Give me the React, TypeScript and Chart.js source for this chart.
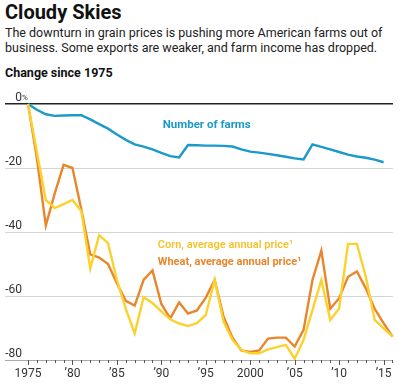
import React, { useEffect, useRef } from "react";
import { Chart, registerables } from "chart.js";

Chart.register(...registerables);

const years: number[] = [
  1975, 1976, 1977, 1978, 1979, 1980, 1981, 1982, 1983, 1984,
  1985, 1986, 1987, 1988, 1989, 1990, 1991, 1992, 1993, 1994,
  1995, 1996, 1997, 1998, 1999, 2000, 2001, 2002, 2003, 2004,
  2005, 2006, 2007, 2008, 2009, 2010, 2011, 2012, 2013, 2014,
  2015, 2016,
];

const farms: (number | null)[] = [
  0, -1.8, -3.2, -3.7, -3.6, -3.5, -3.5, -4.8, -6.3, -7.7,
  -9.5, -11.2, -12.6, -13.3, -14.2, -15.3, -16.3, -16.7, -12.8, -12.9,
  -13.0, -13.0, -13.1, -13.3, -14.2, -14.9, -15.2, -15.6, -16.0, -16.5,
  -17.0, -17.3, -12.6, -13.4, -14.2, -15.0, -15.8, -16.4, -16.8, -17.4,
  -18.2, null,
];

const wheat: number[] = [
  0, -17, -38, -28, -19, -20, -33, -47, -48, -50,
  -56, -61.5, -63, -55, -52, -62.5, -67, -62, -65.5, -64.5,
  -60.5, -55, -66.5, -73, -77, -77.5, -77, -73.3, -73, -73,
  -75.8, -70.6, -55, -45.8, -64, -60.7, -54, -52.3, -57.6, -64,
  -68.5, -72.7,
];

const corn: number[] = [
  0, -15, -30, -32.5, -31.3, -30, -33.5, -51.4, -41, -43.5,
  -55, -64, -71.7, -60.4, -62.2, -64.8, -67.3, -68.6, -69.4, -68.5,
  -65.9, -55, -68, -73.7, -76.9, -77.9, -77.9, -76.7, -76, -75.3,
  -79.6, -73.7, -64.4, -55, -67.5, -63.9, -43.7, -43.7, -54, -67.5,
  -70.1, -72.7,
];

const yTicks: number[] = [0, -20, -40, -60, -80];
const xLabelYears: number[] = [1975, 1980, 1985, 1990, 1995, 2000, 2005, 2010, 2015];

const BLUE = "#1b99c9";
const ORANGE = "#e8862b";
const YELLOW = "#fcd12e";

function xLabel(y: number): string {
  if (y === 1975 || y === 2000) return String(y);
  return "\u2019" + String(y).slice(2);
}

const FONT = "Roboto, 'Noto Sans', sans-serif";

const overlayPlugin = {
  id: "overlay",
  afterDatasetsDraw(chart: any) {
    const ctx = chart.ctx as CanvasRenderingContext2D;
    const xs = chart.scales.x;
    const ys = chart.scales.y;
    const bottom = ys.getPixelForValue(-80);
    ctx.save();
    ctx.strokeStyle = "#555";
    ctx.lineWidth = 1;
    for (const yr of years) {
      const px = Math.round(xs.getPixelForValue(yr)) + 0.5;
      const len = yr % 5 === 0 ? 5 : 3;
      ctx.beginPath();
      ctx.moveTo(px, bottom);
      ctx.lineTo(px, bottom + len);
      ctx.stroke();
    }
    ctx.fillStyle = "#333";
    ctx.font = `12px ${FONT}`;
    ctx.textAlign = "center";
    ctx.textBaseline = "middle";
    for (const yr of xLabelYears) {
      ctx.fillText(xLabel(yr), xs.getPixelForValue(yr), bottom + 14);
    }
    ctx.textAlign = "right";
    ctx.textBaseline = "alphabetic";
    for (const v of yTicks) {
      const py = ys.getPixelForValue(v) - 3;
      const label = v === 0 ? "0" : String(v);
      ctx.font = `12px ${FONT}`;
      ctx.fillText(label.replace("-", "\u2011"), 22, py);
      if (v === 0) {
        ctx.textAlign = "left";
        ctx.font = `8px ${FONT}`;
        ctx.fillText("%", 22, py - 1);
        ctx.textAlign = "right";
      }
    }
    ctx.textBaseline = "middle";
    ctx.textAlign = "center";
    ctx.font = `bold 11.5px ${FONT}`;
    ctx.fillStyle = BLUE;
    ctx.fillText("Number of farms", xs.getPixelForValue(1995.1), ys.getPixelForValue(-6.6));
    ctx.textAlign = "left";
    ctx.font = `600 11px ${FONT}`;
    ctx.fillStyle = "#f6c22c";
    ctx.fillText("Corn, average annual price\u00b9", xs.getPixelForValue(1989.6), ys.getPixelForValue(-44));
    ctx.fillStyle = ORANGE;
    ctx.font = `bold 11px ${FONT}`;
    ctx.fillText("Wheat, average annual price\u00b9", xs.getPixelForValue(1989.6), ys.getPixelForValue(-49.4));
    ctx.restore();
  },
};

export default function App() {
  const canvasRef = useRef<HTMLCanvasElement | null>(null);

  useEffect(() => {
    document.body.style.margin = "0";
    const canvas = canvasRef.current;
    if (!canvas) return;
    const toPts = (vals: (number | null)[]) => years.map((x, i) => ({ x, y: vals[i] }));
    const chart = new Chart(canvas, {
      type: "line",
      data: {
        datasets: [
          { label: "Corn", data: toPts(corn), borderColor: YELLOW, borderWidth: 2.4, pointRadius: 0, tension: 0, clip: false },
          { label: "Wheat", data: toPts(wheat), borderColor: ORANGE, borderWidth: 2.4, pointRadius: 0, tension: 0, clip: false },
          { label: "Farms", data: toPts(farms), borderColor: BLUE, borderWidth: 2.4, pointRadius: 0, tension: 0, clip: false },
        ],
      } as any,
      options: {
        animation: false,
        responsive: false,
        maintainAspectRatio: false,
        layout: { padding: { left: 5, right: 6, top: 104, bottom: 24 } },
        plugins: { legend: { display: false }, tooltip: { enabled: false } },
        scales: {
          x: { type: "linear", min: 1972.41, max: 2016.06, display: false },
          y: {
            min: -80,
            max: 0,
            ticks: { display: false, stepSize: 20 },
            border: { display: false },
            grid: {
              drawTicks: false,
              color: (c: any) => (c.tick.value === 0 ? "#222" : c.tick.value === -80 ? "#aaa" : "#d4d4d4"),
              lineWidth: (c: any) => (c.tick.value === 0 ? 1.6 : 1),
            },
          },
        },
      },
      plugins: [overlayPlugin],
    });
    return () => chart.destroy();
  }, []);

  return (
    <div style={{ position: "relative", width: 399, height: 384, background: "#fff", fontFamily: FONT, color: "#111" }}>
      <div style={{ position: "absolute", left: 5, top: 0, fontSize: 20, fontWeight: 700, lineHeight: "24px" }}>Cloudy Skies</div>
      <div style={{ position: "absolute", left: 5, top: 26, fontSize: 12.5, lineHeight: "14.5px", width: 394, color: "#222" }}>
        The downturn in grain prices is pushing more American farms out of business. Some exports are weaker, and farm income has dropped.
      </div>
      <div style={{ position: "absolute", left: 5, top: 65, fontSize: 12.5, fontWeight: 700, lineHeight: "16px" }}>Change since 1975</div>
      <canvas ref={canvasRef} width={399} height={384} style={{ position: "absolute", left: 0, top: 0 }} />
    </div>
  );
}
